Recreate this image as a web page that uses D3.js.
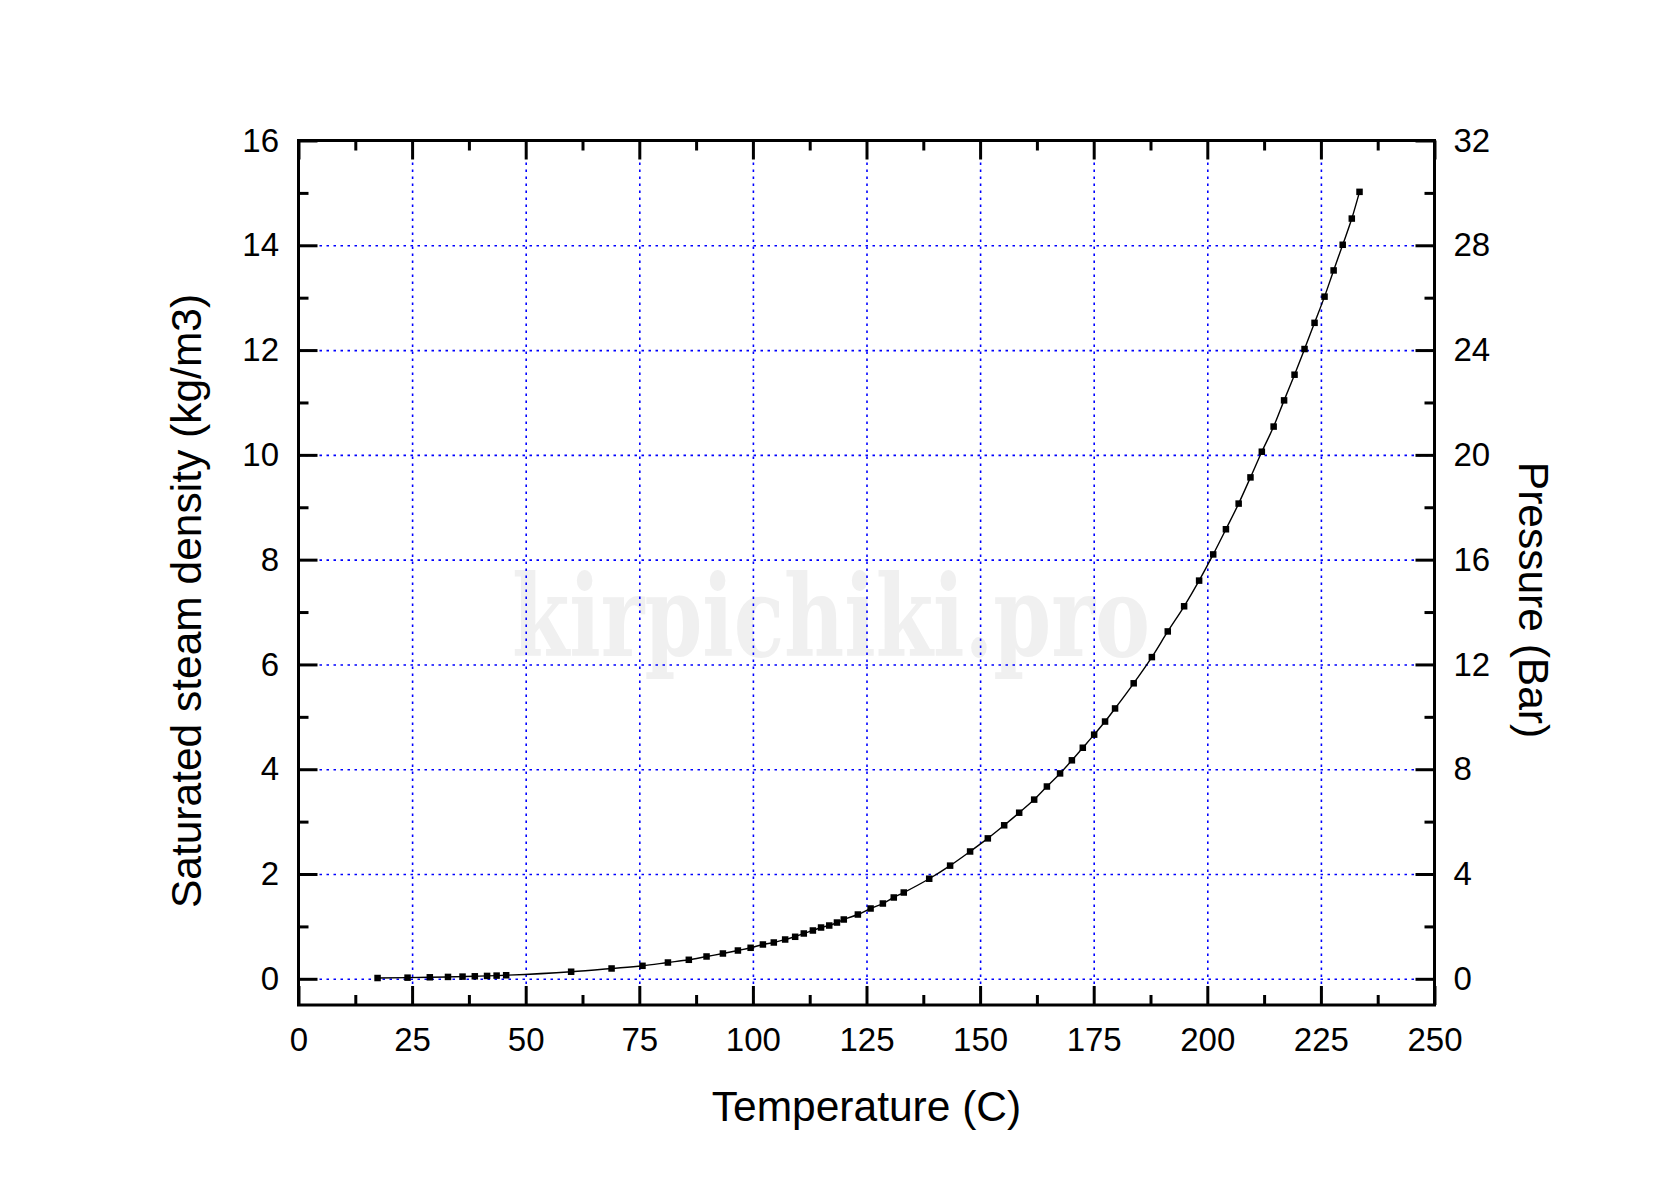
<!DOCTYPE html>
<html>
<head>
<meta charset="utf-8">
<script src="https://cdn.jsdelivr.net/npm/d3@7"></script>
<style>
  html, body { margin: 0; padding: 0; background: #fff; }
  svg { display: block; }
  text { font-family: "Liberation Sans", Arial, sans-serif; fill: #000; }
</style>
</head>
<body>
<script>
// ---- data ----
const temperature = [
  17.4, 24.0, 28.9, 32.9, 36.1, 38.8, 41.5, 43.6, 45.7,
  60.0, 68.9, 75.7, 81.3, 85.9, 89.8, 93.4, 96.7, 99.5,
  102.2, 104.6, 107.1, 109.3,
  111.2, 113.2, 115.0, 116.8, 118.5, 120.0,
  123.1, 125.9, 128.6, 131.0, 133.2,
  138.8, 143.4, 147.8, 151.7, 155.3, 158.6, 161.9, 164.7, 167.6, 170.2, 172.6, 175.1, 177.5, 179.7,
  183.8, 187.8, 191.3, 194.9, 198.2, 201.3, 204.1, 206.9, 209.5, 212.0, 214.6, 216.9, 219.2, 221.4,
  223.6, 225.8, 227.8, 229.8, 231.8, 233.5
];
const density = [
  0.015, 0.022, 0.029, 0.036, 0.042, 0.048, 0.055, 0.061, 0.068,
  0.135, 0.197, 0.248, 0.311, 0.363, 0.426, 0.483, 0.540, 0.592,
  0.655, 0.693, 0.750, 0.802,
  0.865, 0.922, 0.979, 1.017, 1.074, 1.132,
  1.227, 1.342, 1.437, 1.552, 1.647,
  1.91, 2.16, 2.43, 2.68, 2.93, 3.17, 3.42, 3.67, 3.92, 4.17, 4.41, 4.66, 4.91, 5.16,
  5.64, 6.14, 6.63, 7.11, 7.60, 8.10, 8.58, 9.07, 9.57, 10.06, 10.54, 11.04, 11.53, 12.02,
  12.52, 13.02, 13.52, 14.01, 14.51, 15.02
];
const xTicks = [0, 25, 50, 75, 100, 125, 150, 175, 200, 225, 250];
const yTicks = [0, 2, 4, 6, 8, 10, 12, 14, 16];
const pressureTicks = [0, 4, 8, 12, 16, 20, 24, 28, 32];
const xGrid = [25, 50, 75, 100, 125, 150, 175, 200, 225];
const yGrid = [0, 2, 4, 6, 8, 10, 12, 14];
const xLabel = "Temperature (C)";
const yLabel = "Saturated steam density (kg/m3)";
const y2Label = "Pressure (Bar)";
const watermark = "kirpichiki.pro";

// ---- layout ----
const W = 1664, H = 1204;
const L = 298.5, R = 1434.5, T = 140.5, B = 1005;

const svg = d3.select("body").append("svg").attr("width", W).attr("height", H);
svg.append("rect").attr("width", W).attr("height", H).attr("fill", "#fff");

const x = d3.scaleLinear().domain([0, 250]).range([L, R]);
const y = d3.scaleLinear().domain([-0.5, 16]).range([B, T]);
const y2 = d3.scaleLinear().domain([-1, 32]).range([B, T]);

const xMinor = xTicks.slice(0, -1).map(v => v + 12.5);
const yMinor = yTicks.slice(0, -1).map(v => v + 1);
const pMinor = pressureTicks.slice(0, -1).map(v => v + 2);

// watermark
svg.append("text")
  .attr("x", 831).attr("y", 656)
  .attr("text-anchor", "middle")
  .attr("textLength", 638).attr("lengthAdjust", "spacingAndGlyphs")
  .style("font-family", "'DejaVu Serif', 'Liberation Serif', serif")
  .style("font-weight", "bold")
  .style("font-size", "112px")
  .style("fill", "#f0f0f0")
  .text(watermark);

// grid
const gridStyle = g => {
  g.select(".domain").remove();
  g.selectAll(".tick text").remove();
  g.selectAll(".tick line")
    .attr("stroke", "#0000ff")
    .attr("stroke-width", 1.6)
    .attr("stroke-dasharray", "2.5,4.5");
};
svg.append("g").attr("transform", `translate(0,${B})`)
  .call(d3.axisBottom(x).tickValues(xGrid).tickSize(-(B - T)).tickFormat(""))
  .call(gridStyle);
svg.append("g").attr("transform", `translate(${L},0)`)
  .call(d3.axisLeft(y).tickValues(yGrid).tickSize(-(R - L)).tickFormat(""))
  .call(gridStyle);

// axes
const axisStyle = g => {
  g.select(".domain").remove();
  g.selectAll(".tick line").attr("stroke", "#000").attr("stroke-width", 3);
  g.selectAll(".tick text").style("font-size", "33px").attr("fill", "#000")
    .style("font-family", "'Liberation Sans', Arial, sans-serif");
};
// bottom
svg.append("g").attr("transform", `translate(0,${B})`)
  .call(d3.axisBottom(x).tickValues(xTicks).tickSize(-19).tickPadding(22.5))
  .call(axisStyle);
svg.append("g").attr("transform", `translate(0,${B})`)
  .call(d3.axisBottom(x).tickValues(xMinor).tickSize(-10).tickFormat(""))
  .call(axisStyle);
// top
svg.append("g").attr("transform", `translate(0,${T})`)
  .call(d3.axisTop(x).tickValues(xTicks).tickSize(-19).tickFormat(""))
  .call(axisStyle);
svg.append("g").attr("transform", `translate(0,${T})`)
  .call(d3.axisTop(x).tickValues(xMinor).tickSize(-10).tickFormat(""))
  .call(axisStyle);
// left
svg.append("g").attr("transform", `translate(${L},0)`)
  .call(d3.axisLeft(y).tickValues(yTicks).tickSize(-19).tickPadding(19.5))
  .call(axisStyle);
svg.append("g").attr("transform", `translate(${L},0)`)
  .call(d3.axisLeft(y).tickValues(yMinor).tickSize(-10).tickFormat(""))
  .call(axisStyle);
// right
svg.append("g").attr("transform", `translate(${R},0)`)
  .call(d3.axisRight(y2).tickValues(pressureTicks).tickSize(-19).tickPadding(19))
  .call(axisStyle);
svg.append("g").attr("transform", `translate(${R},0)`)
  .call(d3.axisRight(y2).tickValues(pMinor).tickSize(-10).tickFormat(""))
  .call(axisStyle);

// frame
svg.append("rect")
  .attr("x", L).attr("y", T).attr("width", R - L).attr("height", B - T)
  .attr("fill", "none").attr("stroke", "#000").attr("stroke-width", 3);

// series
const pts = temperature.map((t, i) => ({ t, d: density[i] }));
svg.append("path")
  .datum(pts)
  .attr("fill", "none")
  .attr("stroke", "#000")
  .attr("stroke-width", 1.4)
  .attr("d", d3.line().x(p => x(p.t)).y(p => y(p.d)).curve(d3.curveMonotoneX));
svg.append("g").selectAll("rect").data(pts).join("rect")
  .attr("x", p => x(p.t) - 3.25).attr("y", p => y(p.d) - 3.25)
  .attr("width", 6.5).attr("height", 6.5)
  .attr("fill", "#000");

// titles
svg.append("text")
  .attr("x", (L + R) / 2).attr("y", 1121)
  .attr("text-anchor", "middle").style("font-size", "42.5px")
  .text(xLabel);
svg.append("text")
  .attr("transform", "translate(201,601) rotate(-90)")
  .attr("text-anchor", "middle").style("font-size", "42.5px")
  .text(yLabel);
svg.append("text")
  .attr("transform", "translate(1519,600) rotate(90)")
  .attr("text-anchor", "middle").style("font-size", "42.5px")
  .text(y2Label);
</script>
</body>
</html>
